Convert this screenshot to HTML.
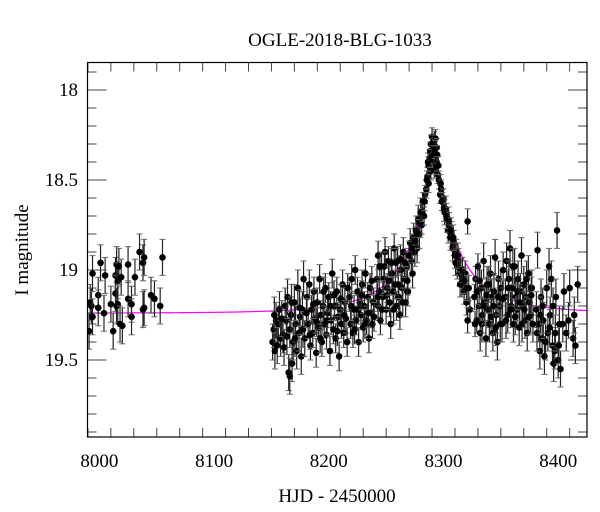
<!DOCTYPE html>
<html><head><meta charset="utf-8"><style>
html,body{margin:0;padding:0;background:#fff;}
svg{display:block;font-family:"Liberation Serif",serif;}
</style></head><body>
<svg id="chart" width="600" height="512" viewBox="0 0 600 512" xmlns="http://www.w3.org/2000/svg">
<defs><clipPath id="plotclip"><rect x="87.5" y="62.5" width="499.5" height="374.5"/></clipPath></defs>
<text x="340" y="46" font-size="19" text-anchor="middle">OGLE-2018-BLG-1033</text>
<text x="337" y="502" font-size="19" text-anchor="middle">HJD - 2450000</text>
<text x="0" y="0" font-size="19" text-anchor="middle" transform="translate(28,250) rotate(-90)">I magnitude</text>
<g id="ticks"></g>
<g id="model" clip-path="url(#plotclip)"></g>
<g id="data" clip-path="url(#plotclip)"></g>
<rect x="87.5" y="62.5" width="499.5" height="374.5" fill="none" stroke="#000" stroke-width="1.2"/>
</svg>
<script>
const xTicks=[8000,8100,8200,8300,8400];
const yTicks=[18,18.5,19,19.5];
const yTickLabels=["18","18.5","19","19.5"];
const xTickLabels=["8000","8100","8200","8300","8400"];
const modelParams=[8291.5,0.15,70,19.24,18.43]; // t0,u0,tE,baseline,peakMag
const errBins=[8060,8180,8280,8300,8330,8430];
const errVals=[0.10,0.10,0.08,0.05,0.07,0.10];
const season1=[[7991,19.34],[7992,19.18],[7993,19.20],[7994,19.02],[7994,19.26],[7999,19.14],[7999,19.21],[8001,18.96],[8004,19.24],[8005,19.03],[8010,19.19],[8012,19.34],[8014,19.03],[8014,19.13],[8015,18.97],[8015,19.20],[8016,19.06],[8016,19.19],[8017,18.98],[8018,19.30],[8019,19.04],[8020,19.31],[8025,18.97],[8025,19.16],[8028,19.26],[8028,19.19],[8031,19.04],[8035,18.90],[8038,18.96],[8038,19.22],[8039,18.93],[8039,19.21],[8045,19.14],[8048,19.16],[8053,19.20],[8055,18.93]];
const season2=[[8151,19.40],[8152,19.33],[8153,19.45],[8154,19.28],[8156,19.30],[8157,19.22],[8158,19.38],[8160,19.36],[8161,19.43],[8162,19.20],[8163,19.28],[8164,19.15],[8165,19.57],[8166,19.59],[8166,19.33],[8167,19.25],[8168,19.52],[8169,19.40],[8170,19.18],[8171,19.30],[8172,19.45],[8173,19.10],[8174,19.35],[8175,19.26],[8176,19.48],[8177,19.22],[8178,19.05],[8179,19.38],
[8181,19.15],[8182,19.30],[8183,19.08],[8184,19.42],[8185,19.22],[8186,19.35],[8187,19.12],[8188,19.27],[8189,19.46],[8190,19.18],[8191,19.32],[8192,19.05],[8193,19.25],[8194,19.40],[8195,19.20],[8196,19.30],[8197,19.10],[8198,19.36],[8199,19.24],[8200,19.15],[8201,19.45],[8202,19.28],[8203,19.02],[8204,19.33],[8205,19.20],[8206,19.38],[8207,19.12],[8208,19.26],[8209,19.48],[8210,19.22],[8211,19.30],[8212,19.08],[8213,19.35],[8214,19.18],[8215,19.27],[8216,19.40],
[8218,19.15],[8219,19.30],[8220,19.05],[8221,19.35],[8222,19.22],[8223,19.00],[8224,19.28],[8225,19.12],[8226,19.40],[8227,19.18],[8228,19.25],[8229,19.08],[8230,19.32],[8231,19.20],[8232,19.02],[8233,19.28],[8234,19.15],[8235,19.38],[8236,19.10],[8237,19.24],[8238,19.30],[8239,19.18],
[8242,19.05],[8243,19.20],[8243,18.92],[8244,19.12],[8245,19.28],[8246,18.98],[8247,19.15],[8248,19.05],[8249,18.90],[8250,19.22],[8251,19.10],[8252,18.95],[8253,19.18],[8254,19.30],[8255,19.02],[8256,19.12],[8257,18.88],[8258,19.08],[8259,19.20],[8260,18.95],[8261,19.15],[8262,19.25],[8263,19.00],[8264,19.10],[8265,18.90],[8266,19.05],[8267,19.18],[8268,18.98],[8269,19.12],
[8271,18.85],[8272,18.95],[8273,19.02],[8274,18.82],[8275,18.90],[8276,18.78],[8277,18.88],[8278,18.72],[8279,18.80],[8280,18.68],[8281,18.75],[8282,18.62],[8283,18.70],[8284,18.58],[8285,18.55],
[8286,18.48],[8287,18.42],[8287,18.52],[8288,18.38],[8289,18.45],[8289,18.30],[8290,18.35],[8290,18.26],[8291,18.40],[8291,18.32],[8292,18.28],[8292,18.44],[8293,18.36],[8293,18.27],[8294,18.40],[8294,18.32],[8295,18.47],[8296,18.50],
[8297,18.58],[8298,18.55],[8299,18.62],[8300,18.60],[8301,18.68],[8302,18.66],[8303,18.72],[8304,18.78],[8305,18.75],[8306,18.82],[8307,18.80],[8308,18.88],[8309,18.85],[8310,18.92],[8311,18.90],[8312,18.98],[8313,18.95],[8314,19.02],[8315,19.00],[8316,19.08],[8317,19.05],[8318,19.12],[8319,19.02],[8320,19.18],[8321,18.73],[8322,19.10],[8323,19.22],[8321,19.28],
[8327,19.15],[8328,19.05],[8329,19.28],[8330,18.98],[8331,19.20],[8332,19.35],[8333,19.10],[8334,19.25],[8335,18.95],[8336,19.18],[8337,19.38],[8338,19.08],[8339,19.22],[8340,19.30],[8341,19.02],[8342,19.15],[8343,19.35],[8344,19.12],[8345,18.93],[8346,19.25],[8347,19.40],[8348,19.05],[8349,19.20],[8350,19.10],[8351,19.30],[8352,19.00],
[8354,19.15],[8355,18.95],[8356,19.25],[8357,19.05],[8358,18.88],[8359,19.20],[8360,19.10],[8361,19.30],[8362,18.98],[8363,19.15],[8364,19.22],[8365,19.05],[8366,19.32],[8367,19.12],[8368,18.92],[8369,19.20],[8370,19.08],[8371,19.28],[8372,19.15],[8373,19.35],[8374,19.02],[8375,19.18],[8376,19.25],[8377,19.10],[8378,19.30],
[8381,19.22],[8382,18.89],[8383,19.30],[8384,19.45],[8385,19.15],[8386,19.38],[8387,19.28],[8388,19.48],[8390,19.10],[8391,19.35],[8392,18.98],[8393,19.25],[8394,19.05],[8395,19.42],[8396,19.52],[8397,19.45],[8398,19.15],[8399,18.78],[8400,19.50],[8401,19.30],[8402,19.55],
[8405,19.12],[8407,19.35],[8410,19.10],[8413,19.38],[8415,19.42],[8417,19.08]];
const season2extra=[[8152.5,19.25],[8155,19.42],[8159,19.27],[8163.5,19.37],[8167.5,19.18],[8170.5,19.38],[8174.5,19.21],[8177.5,19.33],
[8180.5,19.24],[8183.5,19.36],[8186.5,19.19],[8189.5,19.29],[8192.5,19.38],[8195.5,19.12],[8198.5,19.28],[8201.5,19.20],[8204.5,19.14],[8207.5,19.34],[8210.5,19.16],[8213.5,19.25],[8216.5,19.10],
[8219.5,19.20],[8222.5,19.33],[8225.5,19.22],[8228.5,19.14],[8231.5,19.30],[8234.5,19.24],[8237.5,19.06],[8239.5,19.26],
[8242.5,19.15],[8244.5,18.98],[8246.5,19.22],[8248.5,18.98],[8250.5,19.14],[8252.5,19.06],[8254.5,18.96],[8256.5,19.22],[8258.5,18.96],[8260.5,19.08],[8262.5,18.94],[8264.5,19.18],[8266.5,18.96],[8268.5,19.06],[8270,18.92],
[8272.5,18.88],[8275.5,18.84],[8277.5,18.80],[8279.5,18.74],[8281.5,18.68],[8283.5,18.62],[8285.5,18.50],[8286.5,18.40],[8288.5,18.34],[8289.5,18.38],[8290.5,18.30],[8291.5,18.36],[8292.5,18.33],[8293.5,18.42],[8294.5,18.36],[8295.5,18.42],
[8297.5,18.52],[8298.5,18.62],[8300.5,18.66],[8302.5,18.70],[8304.5,18.72],[8306.5,18.78],[8308.5,18.82],[8310.5,18.96],[8312.5,18.92],[8314.5,19.08],[8316.5,19.00],[8318.5,19.06],[8320.5,19.10],
[8327.5,19.30],[8329.5,19.12],[8331.5,19.06],[8333.5,19.30],[8335.5,19.20],[8337.5,19.14],[8339.5,19.08],[8341.5,19.26],[8343.5,19.20],[8345.5,19.32],[8347.5,19.15],[8349.5,19.30],[8351.5,19.16],
[8354.5,19.28],[8356.5,19.10],[8358.5,19.22],[8360.5,18.98],[8362.5,19.26],[8364.5,19.12],[8366.5,19.18],[8368.5,19.30],[8370.5,19.22],[8372.5,19.05],[8374.5,19.26],[8376.5,19.14],
[8381.5,19.35],[8384.5,19.25],[8386.5,19.20],[8389,19.40],[8392.5,19.32],[8395.5,19.20],[8397.5,19.35],[8400.5,19.42],[8404,19.30],[8409,19.28],[8414,19.25]];

const NS="http://www.w3.org/2000/svg";
const X0=87.5,X1=587,Y0=62.5,Y1=437;
function sx(d){return 99.4+(d-8000)*1.147;}
function sy(m){return 90+(m-18)*180;}
function mk(tag,attrs,parent){const e=document.createElementNS(NS,tag);for(const k in attrs)e.setAttribute(k,attrs[k]);parent.appendChild(e);return e;}
const tg=document.getElementById('ticks');
for(let d=7990;d<=8425;d+=20){
  const x=sx(d); if(x<X0||x>X1) continue;
  const major=xTicks.includes(d); const L=major?19:9;
  const t1=mk('line',{x1:x,x2:x,y1:Y1,y2:Y1-L,stroke:'#444','stroke-width':1},tg);
  
  
  const t2=mk('line',{x1:x,x2:x,y1:Y0,y2:Y0+L,stroke:'#444','stroke-width':1},tg);
  
  
}
xTicks.forEach((d,i)=>{
  const t=mk('text',{x:sx(d),y:467,'font-size':19,'text-anchor':'middle'},tg);
  t.textContent=xTickLabels[i];
  
  
});
for(let k=179;k<=199;k++){
  const m=k/10; const y=sy(m); if(y<Y0||y>Y1) continue;
  const major=(k%5===0); const L=major?19:9;
  const t1=mk('line',{x1:X0,x2:X0+L,y1:y,y2:y,stroke:'#444','stroke-width':1},tg);
  
  
  const t2=mk('line',{x1:X1,x2:X1-L,y1:y,y2:y,stroke:'#444','stroke-width':1},tg);
  
  
}
yTicks.forEach((m,i)=>{
  const t=mk('text',{x:78,y:sy(m)+6,'font-size':19,'text-anchor':'end'},tg);
  t.textContent=yTickLabels[i];
  
  
});
const [t0,u0,tE,base,peak]=modelParams;
function A(u){return (u*u+2)/(u*Math.sqrt(u*u+4));}
const A0=A(u0), fs=(Math.pow(10,0.4*(base-peak))-1)/(A0-1);
let dpath='';
for(let d=7985;d<=8430;d+=0.25){
  const tau=(d-t0)/tE,u=Math.sqrt(u0*u0+tau*tau);
  const m=base-2.5*Math.log10(fs*A(u)+1-fs);
  dpath+=(dpath?'L':'M')+sx(d).toFixed(2)+','+sy(m).toFixed(2);
}
const mp=mk('path',{d:dpath,fill:'none',stroke:'#ff00ff','stroke-width':1.2},document.getElementById('model'));


function errFor(d){for(let i=0;i<errBins.length;i++){if(d<=errBins[i])return errVals[i];}return errVals[errVals.length-1];}
const dg=document.getElementById('data');
[season1,season2,season2extra].forEach(arr=>{
  arr.forEach(p=>{
    const x=sx(p[0]),y=sy(p[1]),e=errFor(p[0])*180;
    const g=mk('g',{},dg);
    
    
    mk('line',{x1:x,x2:x,y1:y-e,y2:y+e,stroke:'#222','stroke-width':1.2},g);
    mk('line',{x1:x-3,x2:x+3,y1:y-e,y2:y-e,stroke:'#666','stroke-width':1},g);
    mk('line',{x1:x-3,x2:x+3,y1:y+e,y2:y+e,stroke:'#666','stroke-width':1},g);
    mk('circle',{cx:x,cy:y,r:3.3,fill:'#000'},g);
  });
});
</script>
</body></html>
